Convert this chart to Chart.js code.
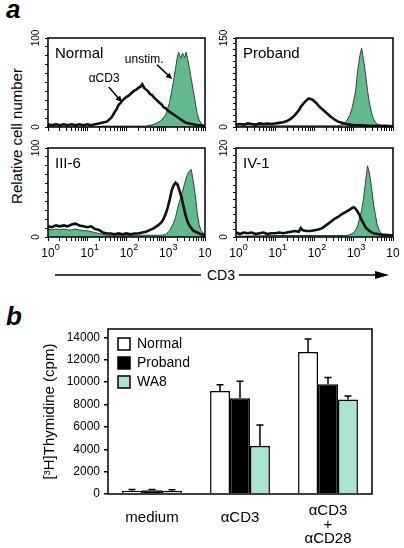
<!DOCTYPE html>
<html>
<head>
<meta charset="utf-8">
<script src="https://cdn.jsdelivr.net/npm/chart.js@4.4.1/dist/chart.umd.min.js"></script>
<style>
  html, body { margin: 0; padding: 0; background: #fff; }
  #page { position: relative; width: 404px; height: 548px; overflow: hidden; }
  #page canvas, #page svg { position: absolute; }
</style>
</head>
<body>
<div id="page">
  <svg width="404" height="548" style="left:0;top:0" font-family="Liberation Sans, Arial, sans-serif">
    <text x="6" y="18" font-size="26" font-weight="bold" font-style="italic">a</text>
    <text x="6" y="325" font-size="26" font-weight="bold" font-style="italic">b</text>
    <text transform="translate(22,136) rotate(-90)" text-anchor="middle" font-size="15">Relative cell number</text>
    <line x1="55" y1="275" x2="201" y2="275" stroke="#000" stroke-width="1.5"/>
    <line x1="239" y1="275" x2="377" y2="275" stroke="#000" stroke-width="1.5"/>
    <polygon points="375,271 389,275 375,279" fill="#000"/>
    <text x="221" y="280" text-anchor="middle" font-size="14">CD3</text>
  </svg>
  <canvas id="h-normal" width="193" height="131" style="left:18px;top:26px"></canvas>
  <canvas id="h-proband" width="193" height="131" style="left:206px;top:26px"></canvas>
  <canvas id="h-iii6" width="193" height="131" style="left:18px;top:136px"></canvas>
  <canvas id="h-iv1" width="193" height="131" style="left:206px;top:136px"></canvas>
  <canvas id="thymidine" width="350" height="248" style="left:30px;top:300px"></canvas>
</div>
<script>
const FONT = '"Liberation Sans", Arial, Helvetica, sans-serif';
const GREEN = '#62b98c';
const AQUA = '#a9e4cf';

// panel a: [log10 CD3 intensity, relative cell number]
const normalStim = [[0,3],[0.1,2],[0.2,3],[0.3,2],[0.4,3],[0.5,2],[0.6,3],[0.7,2],[0.8,3],[0.9,2],[1.0,3],[1.1,2],[1.2,3],[1.3,4],[1.4,5],[1.5,6],[1.6,10],[1.65,13],[1.7,17],[1.75,20],[1.8,25],[1.85,27],[1.9,30],[1.95,32],[2.0,34],[2.05,35],[2.1,37],[2.15,39],[2.2,41],[2.25,42],[2.3,44],[2.35,45],[2.4,48],[2.45,44],[2.5,42],[2.55,40],[2.6,37],[2.65,36],[2.7,33],[2.75,31],[2.8,29],[2.85,27],[2.9,25],[2.95,22],[3.0,21],[3.05,19],[3.1,17],[3.2,14],[3.3,11],[3.4,8],[3.5,5],[3.6,4],[3.7,3],[3.8,2],[3.9,2],[4.0,1]];
const normalUnstim = [[0,0],[1.2,0],[1.4,1],[2.5,1],[2.7,3],[2.8,5],[2.9,8],[3.0,14],[3.1,28],[3.15,40],[3.2,52],[3.25,66],[3.3,80],[3.33,84],[3.38,77],[3.43,83],[3.48,78],[3.52,84],[3.56,76],[3.6,67],[3.65,54],[3.7,41],[3.75,28],[3.8,15],[3.85,8],[3.9,4],[4.0,1]];

const probandStim = [[0,4],[0.1,5],[0.2,4],[0.3,6],[0.4,5],[0.5,4],[0.6,6],[0.7,5],[0.8,6],[0.9,5],[1.0,6],[1.1,7],[1.2,8],[1.3,10],[1.4,14],[1.5,20],[1.55,24],[1.6,28],[1.65,34],[1.7,38],[1.75,42],[1.8,45],[1.85,48],[1.9,47],[1.95,46],[2.0,43],[2.05,40],[2.1,36],[2.15,33],[2.2,30],[2.3,24],[2.4,18],[2.5,13],[2.6,9],[2.7,7],[2.8,5],[2.9,4],[3.0,3],[3.2,3],[3.4,2],[3.6,2],[3.8,2],[4.0,1]];
const probandUnstim = [[0,1],[0.5,2],[2.6,2],[2.7,4],[2.8,8],[2.9,20],[2.95,30],[3.0,45],[3.05,62],[3.1,95],[3.15,118],[3.2,133],[3.25,113],[3.3,90],[3.35,62],[3.4,40],[3.45,25],[3.5,14],[3.55,8],[3.6,5],[3.7,2],[3.8,1],[4.0,1]];

const iii6Stim = [[0,12],[0.1,11],[0.2,13],[0.3,12],[0.4,13],[0.5,12],[0.6,14],[0.7,15],[0.8,13],[0.9,12],[1.0,11],[1.1,12],[1.2,9],[1.3,8],[1.4,5],[1.5,4],[1.6,4],[1.7,3],[1.8,4],[1.9,3],[2.0,4],[2.1,3],[2.2,4],[2.3,4],[2.4,5],[2.5,6],[2.6,8],[2.7,10],[2.8,13],[2.9,17],[2.95,21],[3.0,26],[3.05,33],[3.1,42],[3.15,52],[3.2,58],[3.25,61],[3.3,59],[3.35,52],[3.4,45],[3.45,35],[3.5,25],[3.55,18],[3.6,13],[3.7,7],[3.8,5],[3.9,3],[4.0,2]];
const iii6Unstim = [[0,9],[0.1,8],[0.2,9],[0.3,8],[0.4,9],[0.5,8],[0.6,8],[0.7,9],[0.8,8],[0.9,7],[1.0,7],[1.1,6],[1.2,5],[1.3,4],[1.4,3],[1.5,2],[2.9,2],[3.0,3],[3.1,7],[3.2,16],[3.25,22],[3.3,32],[3.35,40],[3.4,47],[3.45,55],[3.5,63],[3.55,70],[3.6,74],[3.65,76],[3.7,63],[3.75,48],[3.8,28],[3.85,14],[3.9,7],[3.95,5],[4.0,3]];

const iv1Stim = [[0,6],[0.1,4],[0.2,6],[0.3,5],[0.4,6],[0.5,4],[0.6,5],[0.7,6],[0.8,4],[0.9,5],[1.0,5],[1.1,6],[1.2,5],[1.3,6],[1.4,7],[1.5,8],[1.6,7],[1.65,12],[1.7,9],[1.8,8],[1.9,8],[2.0,9],[2.1,10],[2.2,12],[2.3,16],[2.4,20],[2.5,24],[2.6,27],[2.7,31],[2.8,34],[2.9,37],[2.95,39],[3.0,40],[3.05,38],[3.1,34],[3.15,29],[3.2,23],[3.25,18],[3.3,13],[3.4,8],[3.5,5],[3.6,4],[3.7,3],[3.8,3],[4.0,2]];
const iv1Unstim = [[0,1],[1.0,2],[2.8,2],[2.9,3],[3.0,6],[3.05,10],[3.1,15],[3.15,25],[3.2,36],[3.25,52],[3.3,74],[3.35,96],[3.4,86],[3.45,68],[3.5,46],[3.55,30],[3.6,16],[3.65,9],[3.7,5],[3.8,2],[4.0,1]];

const decades = [0, 1, 2, 3, 4];
const minorSteps = [1, 2, 3, 4, 5, 6, 7, 8, 9];

// panel b
const groups = ['medium', 'αCD3', ['αCD3', '+', 'αCD28']];
const normalCpm = [280, 9200, 12700];
const normalErr = [120, 560, 1160];
const probandCpm = [340, 8550, 9800];
const probandErr = [60, 1540, 620];
const wa8Cpm = [270, 4300, 8450];
const wa8Err = [110, 1860, 320];
const cpmTicks = [0, 2000, 4000, 6000, 8000, 10000, 12000, 14000];

Chart.defaults.font.family = FONT;
Chart.defaults.color = '#000';

const logTicks = [];
decades.slice(0, -1).forEach(d => minorSteps.forEach(k => logTicks.push(k * 10 ** d)));
logTicks.push(10 ** decades[decades.length - 1]);

function toPoints(pairs) {
  return pairs.map(([e, v]) => ({ x: 10 ** e, y: v }));
}

function drawArrow(ctx, x0, y0, x1, y1) {
  const ang = Math.atan2(y1 - y0, x1 - x0);
  const len = 6;
  ctx.beginPath();
  ctx.moveTo(x0, y0);
  ctx.lineTo(x1 - Math.cos(ang) * len * 0.8, y1 - Math.sin(ang) * len * 0.8);
  ctx.stroke();
  ctx.beginPath();
  ctx.moveTo(x1, y1);
  ctx.lineTo(x1 - len * Math.cos(ang) + 3 * Math.sin(ang), y1 - len * Math.sin(ang) - 3 * Math.cos(ang));
  ctx.lineTo(x1 - len * Math.cos(ang) - 3 * Math.sin(ang), y1 - len * Math.sin(ang) + 3 * Math.cos(ang));
  ctx.closePath();
  ctx.fill();
}

const histDecor = {
  id: 'histDecor',
  afterDraw(chart, args, opts) {
    const { ctx, chartArea: a, scales: { x, y } } = chart;
    ctx.save();
    ctx.strokeStyle = '#000';
    ctx.fillStyle = '#000';
    ctx.lineWidth = 1.5;
    ctx.strokeRect(a.left, a.top, a.right - a.left, a.bottom - a.top);

    ctx.font = `15px ${FONT}`;
    ctx.textAlign = 'left';
    ctx.textBaseline = 'alphabetic';
    ctx.fillText(opts.title, a.left + 7, a.top + 20);

    ctx.font = `10px ${FONT}`;
    [y.min, y.max].forEach(v => {
      ctx.save();
      ctx.translate(a.left - 12, y.getPixelForValue(v));
      ctx.rotate(-Math.PI / 2);
      ctx.textAlign = 'center';
      ctx.textBaseline = 'middle';
      ctx.fillText(String(v), 0, 0);
      ctx.restore();
    });

    if (opts.xLabels) {
      decades.forEach(d => {
        const px = x.getPixelForValue(10 ** d);
        ctx.font = `12px ${FONT}`;
        ctx.textAlign = 'center';
        ctx.fillText('10', px, a.bottom + 20);
        const w = ctx.measureText('10').width;
        ctx.font = `9px ${FONT}`;
        ctx.textAlign = 'left';
        ctx.fillText(String(d), px + w / 2, a.bottom + 13);
      });
    }

    ctx.lineWidth = 1.5;
    ctx.font = `12px ${FONT}`;
    ctx.textAlign = 'center';
    (opts.notes || []).forEach(n => {
      ctx.fillText(n.text, x.getPixelForValue(10 ** n.at[0]), y.getPixelForValue(n.at[1]));
      drawArrow(ctx,
        x.getPixelForValue(10 ** n.tail[0]), y.getPixelForValue(n.tail[1]),
        x.getPixelForValue(10 ** n.tip[0]), y.getPixelForValue(n.tip[1]));
    });
    ctx.restore();
  }
};

function histChart(id, title, stim, unstim, yMax, xLabels, notes) {
  return new Chart(document.getElementById(id), {
    type: 'line',
    data: {
      datasets: [
        { label: 'αCD3', data: toPoints(stim), borderColor: '#111', borderWidth: 2.6, pointRadius: 0, fill: false, tension: 0 },
        { label: 'unstim.', data: toPoints(unstim), borderColor: '#2b4a38', borderWidth: 1, backgroundColor: GREEN, pointRadius: 0, fill: 'origin', tension: 0 }
      ]
    },
    options: {
      responsive: false, animation: false, devicePixelRatio: 1,
      layout: { padding: { top: 12, right: 6, left: 0, bottom: 0 }, autoPadding: false },
      plugins: { legend: { display: false }, tooltip: { enabled: false }, histDecor: { title, xLabels, notes } },
      scales: {
        x: {
          type: 'logarithmic', min: 1, max: 10000,
          afterBuildTicks: s => { s.ticks = logTicks.map(v => ({ value: v })); },
          afterFit: s => { s.height = 30; },
          ticks: { display: false, autoSkip: false },
          grid: { drawOnChartArea: false, tickLength: 4, color: '#000', lineWidth: 1 },
          border: { display: false }
        },
        y: {
          min: 0, max: yMax,
          afterFit: s => { s.width = 30; },
          ticks: { display: false, stepSize: 10 },
          grid: { drawOnChartArea: false, tickLength: 3, color: '#000', lineWidth: 1 },
          border: { display: false }
        }
      }
    },
    plugins: [histDecor]
  });
}

histChart('h-normal', 'Normal', normalStim, normalUnstim, 100, false, [
  { text: 'unstim.', at: [2.45, 72], tail: [2.78, 70], tip: [3.16, 54] },
  { text: 'αCD3', at: [1.43, 50.5], tail: [1.55, 45], tip: [1.88, 28] }
]);
histChart('h-proband', 'Proband', probandStim, probandUnstim, 150, false, []);
histChart('h-iii6', 'III-6', iii6Stim, iii6Unstim, 100, true, []);
histChart('h-iv1', 'IV-1', iv1Stim, iv1Unstim, 120, true, []);

const barDecor = {
  id: 'barDecor',
  afterLayout(chart) {
    const a = chart.chartArea;
    chart.legend.left = a.left + 5;
    chart.legend.top = a.top + 3;
    chart.legend.bottom = a.bottom;
  },
  afterDatasetsDraw(chart) {
    const { ctx, scales: { y } } = chart;
    ctx.save();
    ctx.strokeStyle = '#000';
    ctx.lineWidth = 1.5;
    chart.data.datasets.forEach((ds, i) => {
      chart.getDatasetMeta(i).data.forEach((bar, j) => {
        const top = y.getPixelForValue(ds.data[j] + ds.errors[j]);
        ctx.beginPath();
        ctx.moveTo(bar.x, bar.y);
        ctx.lineTo(bar.x, top);
        ctx.moveTo(bar.x - 3.5, top);
        ctx.lineTo(bar.x + 3.5, top);
        ctx.stroke();
      });
    });
    ctx.restore();
  },
  afterDraw(chart) {
    const { ctx, chartArea: a, scales: { x } } = chart;
    ctx.save();
    ctx.strokeStyle = '#000';
    ctx.lineWidth = 1.5;
    ctx.strokeRect(a.left, a.top, a.right - a.left, a.bottom - a.top);
    ctx.fillStyle = '#000';
    ctx.font = `15px ${FONT}`;
    ctx.textAlign = 'center';
    ctx.textBaseline = 'alphabetic';
    groups.forEach((g, i) => {
      const px = x.getPixelForValue(i);
      const lines = Array.isArray(g) ? g : [g];
      const first = lines.length > 1 ? a.bottom + 21 : a.bottom + 28;
      lines.forEach((t, k) => ctx.fillText(t, px, first + k * 14));
    });
    ctx.restore();
  }
};

new Chart(document.getElementById('thymidine'), {
  type: 'bar',
  data: {
    labels: groups,
    datasets: [
      { label: 'Normal', data: normalCpm, errors: normalErr, backgroundColor: '#fff', borderColor: '#000', borderWidth: 1.5 },
      { label: 'Proband', data: probandCpm, errors: probandErr, backgroundColor: '#000', borderColor: '#000', borderWidth: 1.5 },
      { label: 'WA8', data: wa8Cpm, errors: wa8Err, backgroundColor: AQUA, borderColor: '#000', borderWidth: 1.5 }
    ]
  },
  options: {
    responsive: false, animation: false, devicePixelRatio: 1,
    layout: { padding: { top: 29, right: 8, left: 0, bottom: 0 }, autoPadding: false },
    datasets: { bar: { categoryPercentage: 0.68, barPercentage: 1 } },
    plugins: {
      tooltip: { enabled: false },
      legend: {
        position: 'chartArea', align: 'start',
        labels: { boxWidth: 12, boxHeight: 12, padding: 5, color: '#000', font: { size: 14 } }
      }
    },
    scales: {
      x: {
        afterFit: s => { s.height = 54; },
        ticks: { display: false },
        grid: { display: false },
        border: { display: false }
      },
      y: {
        min: 0, max: 14750,
        afterBuildTicks: s => { s.ticks = cpmTicks.map(v => ({ value: v })); },
        afterFit: s => { s.width = 78; },
        ticks: { font: { size: 12 }, color: '#000', padding: 4, callback: v => String(v) },
        grid: { drawOnChartArea: false, tickLength: 4, color: '#000', lineWidth: 1.5 },
        border: { display: false },
        title: { display: true, text: '[³H]Thymidine (cpm)', font: { size: 15 }, color: '#000', padding: { top: 11, bottom: 0 } }
      }
    }
  },
  plugins: [barDecor]
});
</script>
</body>
</html>
